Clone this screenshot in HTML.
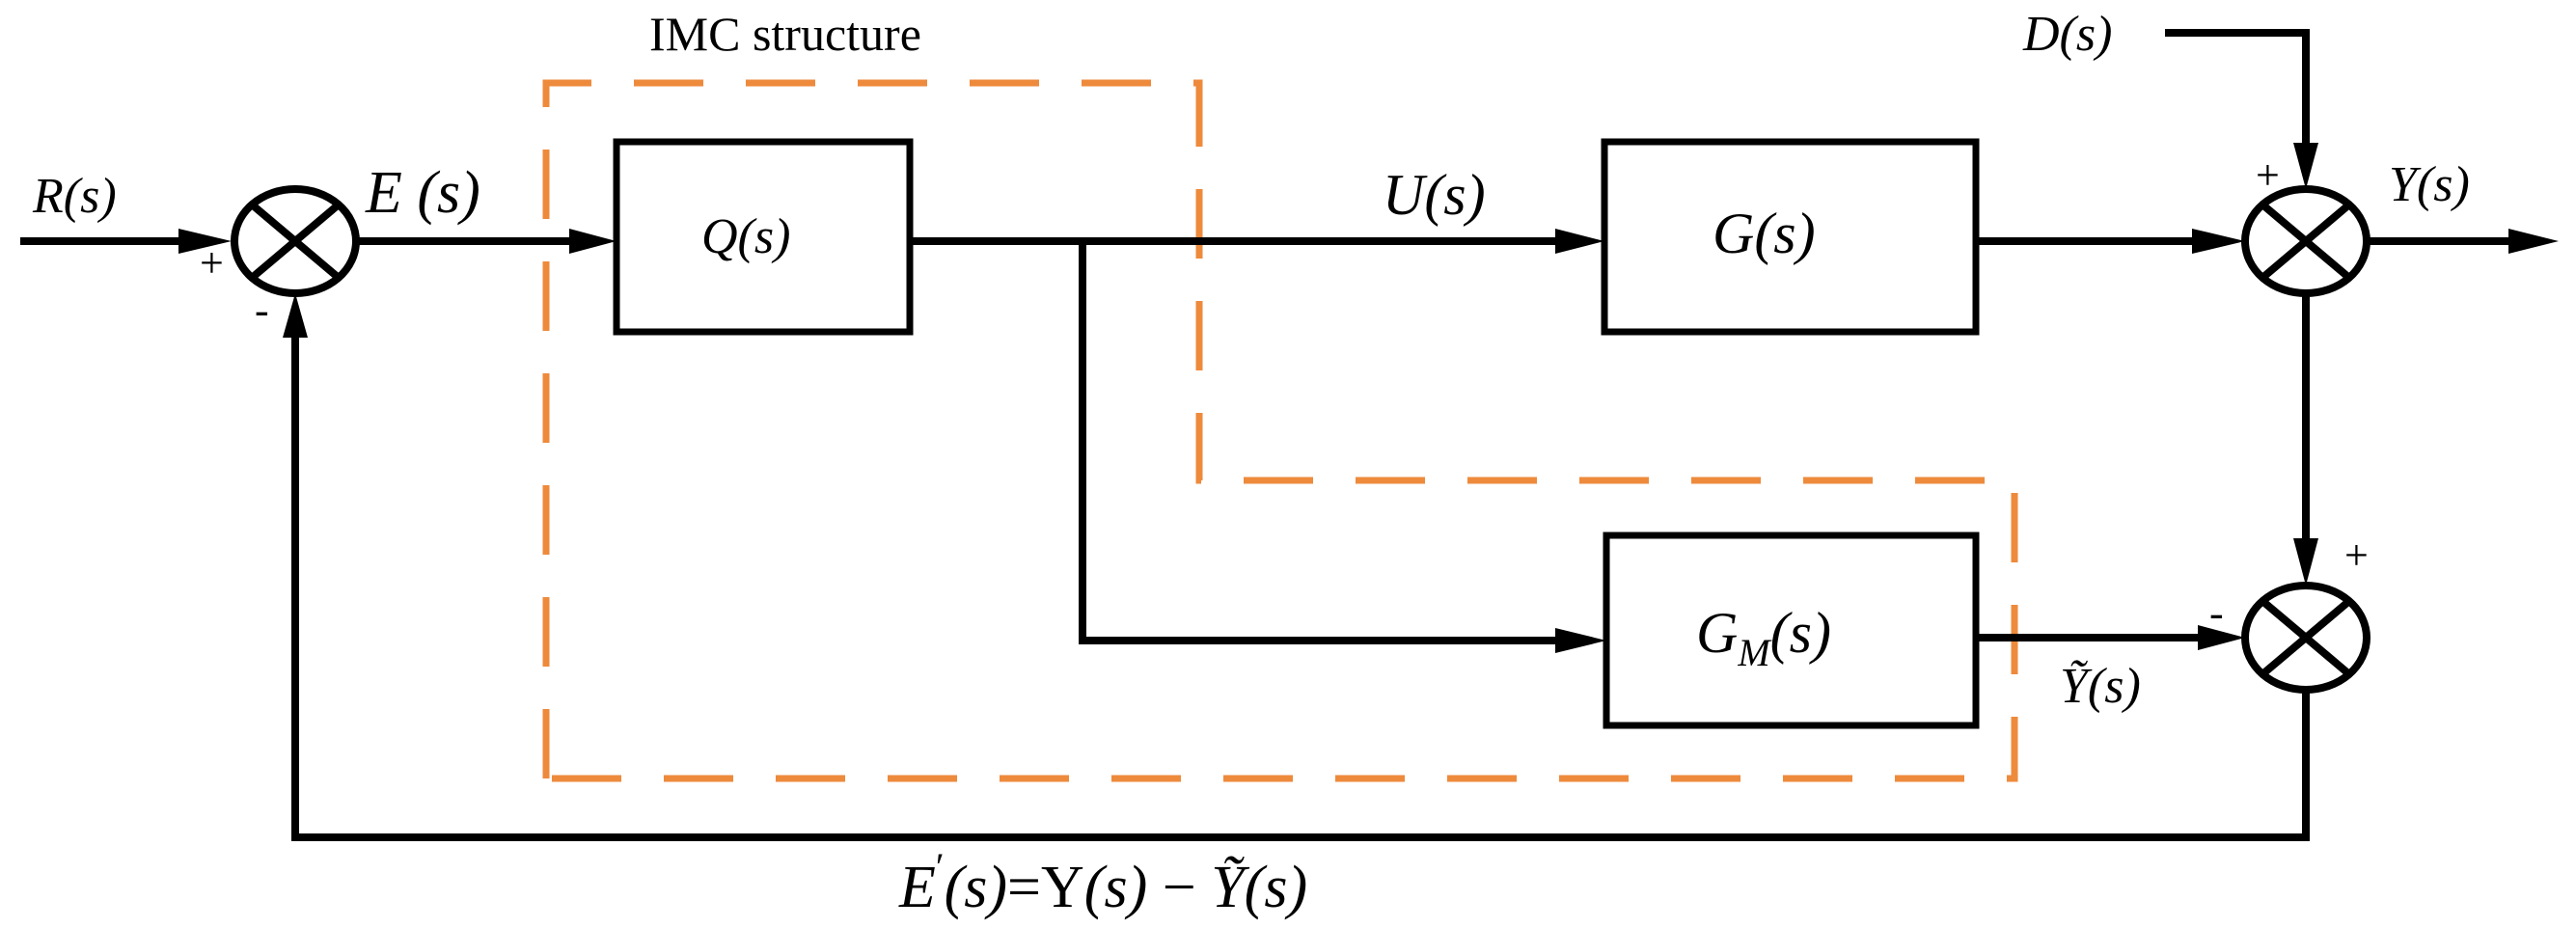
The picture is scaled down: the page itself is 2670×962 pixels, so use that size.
<!DOCTYPE html>
<html><head><meta charset="utf-8"><style>
html,body{margin:0;padding:0;background:#fff;}
svg{display:block;}
text{font-family:"Liberation Serif",serif;fill:#000;}
.m{font-style:italic;}
</style></head><body>
<svg width="2670" height="962" viewBox="0 0 2670 962" xmlns="http://www.w3.org/2000/svg">
<defs>
<marker id="a" markerWidth="10" markerHeight="10" refX="9" refY="5" orient="auto" markerUnits="userSpaceOnUse" viewBox="0 0 10 10"><path d="M0,0 L10,5 L0,10 z" fill="#000"/></marker>
</defs>
<g fill="none" stroke="#000" stroke-width="8">
<!-- orange dashed IMC boundary -->
<path d="M566,807 L566,86 L1243,86 L1243,498 L2088,498 L2088,807 Z" stroke="#EE8A3C" stroke-width="7" stroke-dasharray="72,44"/>
<!-- boxes -->
<rect x="639" y="147" width="304" height="197" stroke-width="7"/>
<rect x="1663" y="147" width="385" height="197" stroke-width="7"/>
<rect x="1665" y="555" width="383" height="197" stroke-width="7"/>
<!-- summers -->
<ellipse cx="306" cy="250" rx="63" ry="54"/>
<line x1="261" y1="212" x2="351" y2="288"/><line x1="351" y1="212" x2="261" y2="288"/>
<ellipse cx="2390" cy="250" rx="63" ry="54"/>
<line x1="2345" y1="212" x2="2435" y2="288"/><line x1="2435" y1="212" x2="2345" y2="288"/>
<ellipse cx="2390" cy="661" rx="63" ry="54"/>
<line x1="2345" y1="623" x2="2435" y2="699"/><line x1="2435" y1="623" x2="2345" y2="699"/>
<!-- lines -->
<line x1="21" y1="250" x2="200" y2="250"/>
<line x1="369" y1="250" x2="590" y2="250"/>
<line x1="943" y1="250" x2="1615" y2="250"/>
<polyline points="1122,250 1122,664 1615,664"/>
<line x1="2048" y1="250" x2="2275" y2="250"/>
<line x1="2453" y1="250" x2="2600" y2="250"/>
<polyline points="2244,34 2390,34 2390,150"/>
<line x1="2390" y1="304" x2="2390" y2="560"/>
<line x1="2048" y1="661" x2="2280" y2="661"/>
<polyline points="2390,715 2390,868 306,868 306,350"/>
</g>
<g fill="#000">
<path d="M185,237 L240,250 L185,263 z"/>
<path d="M590,237 L639,250 L590,263 z"/>
<path d="M1612,237 L1663,250 L1612,263 z"/>
<path d="M1612,651 L1665,664 L1612,677 z"/>
<path d="M2272,237 L2327,250 L2272,263 z"/>
<path d="M2600,237 L2652,250 L2600,263 z"/>
<path d="M2377,148 L2390,196 L2403,148 z"/>
<path d="M2377,558 L2390,607 L2403,558 z"/>
<path d="M2278,648 L2327,661 L2278,674 z"/>
<path d="M293,350 L306,304 L319,350 z"/>
</g>
<!-- labels -->
<text x="673" y="52" font-size="50">IMC structure</text>
<text class="m" x="34" y="220" font-size="52">R(s)</text>
<text class="m" x="379" y="220" font-size="62">E (s)</text>
<text class="m" x="727" y="262" font-size="52">Q(s)</text>
<text class="m" x="1433" y="222" font-size="60">U(s)</text>
<text class="m" x="1775" y="262" font-size="60">G(s)</text>
<text class="m" x="1758" y="676" font-size="60">G<tspan font-size="40" dy="14">M</tspan><tspan dy="-14">(s)</tspan></text>
<text class="m" x="2097" y="52" font-size="52">D(s)</text>
<text class="m" x="2476" y="208" font-size="52">Y(s)</text>
<text class="m" x="2135" y="728" font-size="52">Ỹ(s)</text>
<text x="207" y="287" font-size="44">+</text>
<text x="264" y="336" font-size="44">-</text>
<text x="2338" y="196" font-size="44">+</text>
<text x="2430" y="590" font-size="44">+</text>
<text x="2290" y="650" font-size="44">-</text>
<text x="932" y="940" font-size="62"><tspan class="m">E</tspan><tspan font-size="40" dy="-28">′</tspan><tspan dy="28" class="m">(s)</tspan>=Y<tspan class="m">(s)</tspan> − <tspan class="m">Ỹ(s)</tspan></text>
</svg>
</body></html>
